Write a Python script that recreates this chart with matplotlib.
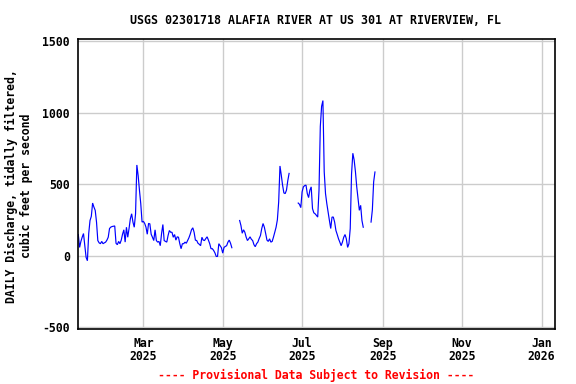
import matplotlib
matplotlib.use("Agg")
import matplotlib.pyplot as plt
import numpy as np
import pandas as pd

# ---- data (daily discharge, cfs), four continuous segments ----
seg1_start = "2025-01-10"
seg1_values = [148, 58, 100, 130, 155, 70, -12, -35, 155, 246, 275, 368, 340, 317, 235, 106,
               90, 84, 100, 84, 90, 95, 109, 129, 190, 200, 204, 206, 208, 87, 77, 100, 84,
               109, 150, 181, 95, 199, 129, 190, 258, 293, 235, 199, 293, 634, 560, 458, 364,
               235, 240, 226, 200, 150, 226, 222, 150, 129, 106, 181, 106, 95, 100, 70, 155,
               218, 106, 100, 95, 141, 176, 164, 164, 129, 148, 109, 132, 129, 84, 49, 84, 84,
               95, 87, 106, 125, 150, 181, 195, 164, 109, 106, 87, 80, 70, 129, 109, 106, 120,
               132, 109, 84, 49, 49, 37, 20, -5, -5, 84, 70, 56, 18, 58, 65, 70, 95, 109, 87, 56]
seg2_start = "2025-05-14"
seg2_values = [246, 211, 157, 181, 164, 130, 106, 118, 132, 115, 106, 77, 63, 84, 95, 120,
               141, 190, 225, 199, 155, 109, 100, 118, 95, 100, 130, 164, 199, 251, 375, 627,
               563, 493, 439, 434, 458, 524, 575]
seg3_start = "2025-06-28"
seg3_values = [368, 359, 336, 446, 481, 490, 493, 434, 406, 458, 481, 329, 300, 293, 282, 270,
               458, 903, 1044, 1084, 587, 434, 364, 305, 246, 190, 270, 270, 235, 176, 148,
               118, 95, 70, 95, 129, 148, 118, 58, 84, 190, 570, 716, 669, 587, 481, 399, 317,
               352, 246, 199]
seg4_start = "2025-08-23"
seg4_values = [235, 320, 516, 585]

segments = [(seg1_start, seg1_values), (seg2_start, seg2_values),
            (seg3_start, seg3_values), (seg4_start, seg4_values)]

x_start = "2025-01-10"
x_end = "2026-01-11 09:00"
y_min, y_max = -512, 1512
y_ticks = [-500, 0, 500, 1000, 1500]
x_tick_dates = ["2025-03-01", "2025-05-01", "2025-07-01", "2025-09-01", "2025-11-01", "2026-01-01"]
x_tick_labels = ["Mar\n2025", "May\n2025", "Jul\n2025", "Sep\n2025", "Nov\n2025", "Jan\n2026"]

title = "USGS 02301718 ALAFIA RIVER AT US 301 AT RIVERVIEW, FL"
ylabel = "DAILY Discharge, tidally filtered,\ncubic feet per second"
footer = "---- Provisional Data Subject to Revision ----"

# ---- figure ----
plt.rcParams['font.family'] = ['DejaVu Sans Mono']
plt.rcParams['font.weight'] = 'bold'
fs = 8.3

fig = plt.figure(figsize=(5.76, 3.84), dpi=100)
ax = fig.add_axes([78.3 / 576, 1 - 329 / 384, (555 - 78.3) / 576, (329 - 39.3) / 384])

for start, vals in segments:
    dates = pd.date_range(start, periods=len(vals), freq="D")
    ax.plot(dates, vals, color="#0000ff", lw=0.85, solid_joinstyle="miter")

ax.set_xlim(pd.Timestamp(x_start), pd.Timestamp(x_end))
ax.set_ylim(y_min, y_max)
ax.set_yticks(y_ticks)
ax.set_yticklabels([str(v) for v in y_ticks], fontsize=fs, fontweight='bold')
ax.set_xticks([pd.Timestamp(d) for d in x_tick_dates])
ax.set_xticklabels(x_tick_labels, fontsize=fs, fontweight='bold', linespacing=1.05)
ax.tick_params(axis='both', length=0)
ax.tick_params(axis='x', pad=5.5)
ax.tick_params(axis='y', pad=6)
ax.grid(True, color="#cccccc", lw=1.0)
ax.set_axisbelow(True)
for s in ax.spines.values():
    s.set_linewidth(1.2)
    s.set_color("black")

fig.text(316 / 576, 1 - 21 / 384, title, ha="center", va="center", fontsize=8.35, fontweight='bold')
fig.text(19 / 576, 1 - 186 / 384, ylabel, ha="center", va="center", rotation=90,
         fontsize=fs, fontweight='bold', multialignment="center", linespacing=1.1)
fig.text(316 / 576, 1 - 375 / 384, footer, ha="center", va="center", fontsize=fs,
         fontweight='bold', color="red")

fig.savefig("out.png", dpi=100)
